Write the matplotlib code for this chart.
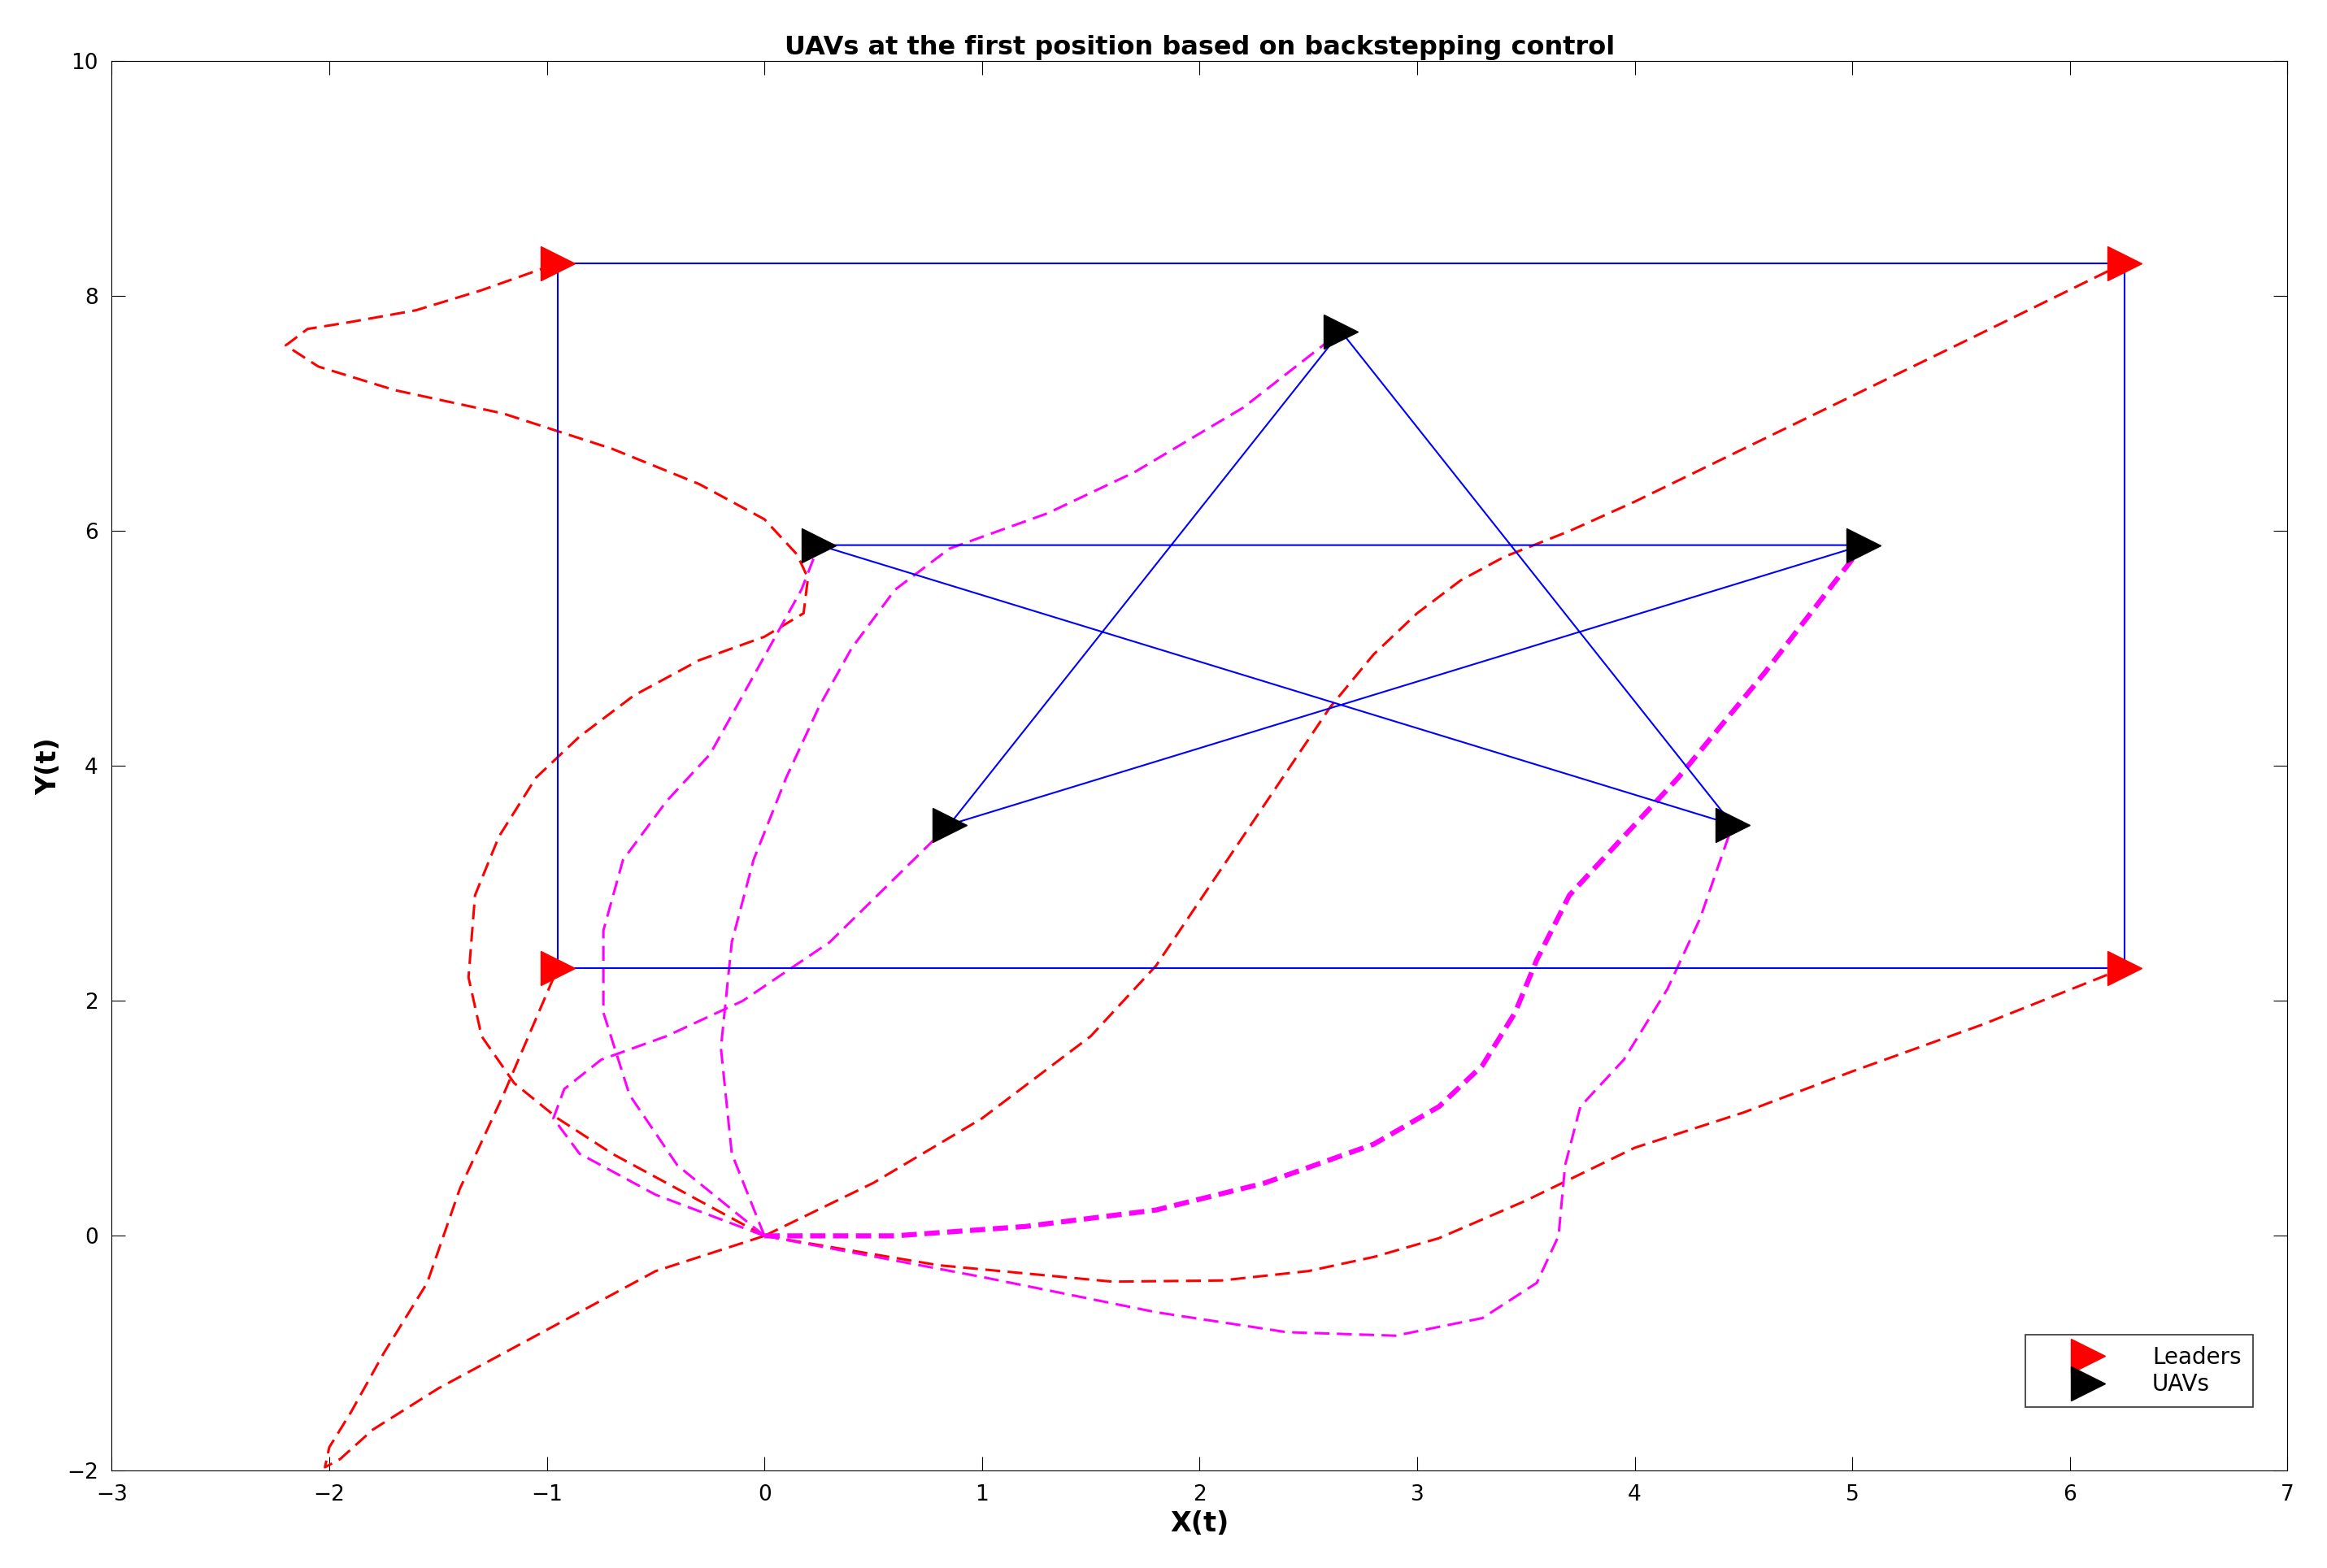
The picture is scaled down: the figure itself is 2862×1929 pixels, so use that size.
import matplotlib
matplotlib.use('Agg')
import matplotlib.pyplot as plt

# leader and UAV end positions
leaders_x = [-0.95, 6.25, -0.95, 6.25]
leaders_y = [8.28, 8.28, 2.28, 2.28]
uavs_x = [2.65, 0.25, 5.05, 0.85, 4.45]
uavs_y = [7.70, 5.88, 5.88, 3.50, 3.50]

# formation outlines (indices into above)
rect_order = [0, 1, 3, 2, 0]
star_order = [0, 3, 2, 1, 4, 0]

# leader trajectories (red dashed)
red_paths = [
    ([0, -0.3, -0.7, -0.95, -1.15, -1.3, -1.36, -1.33, -1.22, -1.05, -0.85, -0.6, -0.3, 0.0, 0.18, 0.2,
      0.15, 0.0, -0.3, -0.7, -1.2, -1.7, -2.05, -2.2, -2.1, -1.9, -1.6, -1.3, -0.95],
     [0, 0.3, 0.7, 1.0, 1.3, 1.7, 2.2, 2.9, 3.4, 3.9, 4.25, 4.6, 4.9, 5.1, 5.3, 5.6,
      5.8, 6.1, 6.4, 6.7, 7.0, 7.2, 7.4, 7.58, 7.72, 7.78, 7.88, 8.05, 8.28]),
    ([0, -0.5, -1.0, -1.5, -1.8, -1.95, -2.02, -2.0, -1.9, -1.75, -1.55, -1.4, -1.2, -0.95],
     [0, -0.3, -0.8, -1.3, -1.65, -1.9, -1.97, -1.8, -1.5, -1.0, -0.4, 0.4, 1.2, 2.28]),
    ([0, 0.5, 1.0, 1.5, 1.8, 2.0, 2.2, 2.4, 2.6, 2.8, 3.0, 3.2, 3.4, 3.7, 4.0, 4.5, 5.0, 5.5, 6.25],
     [0, 0.45, 1.0, 1.7, 2.3, 2.85, 3.4, 3.95, 4.5, 4.95, 5.3, 5.58, 5.78, 6.0, 6.25, 6.7, 7.15, 7.6, 8.28]),
    ([0, 0.8, 1.6, 2.1, 2.5, 2.8, 3.1, 3.5, 4.0, 4.5, 5.0, 5.6, 6.25],
     [0, -0.25, -0.39, -0.38, -0.3, -0.18, -0.02, 0.3, 0.75, 1.05, 1.4, 1.8, 2.28]),
]

# UAV trajectories (magenta dashed)
mag_paths = [
    ([0, -0.4, -0.62, -0.74, -0.74, -0.65, -0.45, -0.25, -0.1, 0.05, 0.17, 0.25],
     [0, 0.6, 1.2, 1.9, 2.6, 3.2, 3.7, 4.1, 4.6, 5.1, 5.5, 5.88]),
    ([0, -0.15, -0.2, -0.15, -0.05, 0.1, 0.25, 0.4, 0.6, 0.85, 1.3, 1.7, 2.2, 2.65],
     [0, 0.7, 1.6, 2.5, 3.2, 3.9, 4.5, 5.0, 5.5, 5.85, 6.15, 6.5, 7.05, 7.7]),
    ([0, -0.5, -0.85, -0.97, -0.92, -0.75, -0.45, -0.1, 0.3, 0.85],
     [0, 0.35, 0.7, 1.0, 1.25, 1.5, 1.7, 2.0, 2.5, 3.5]),
    ([0, 1.0, 1.8, 2.4, 2.9, 3.3, 3.55, 3.65, 3.68, 3.75, 3.95, 4.15, 4.3, 4.45],
     [0, -0.35, -0.65, -0.82, -0.85, -0.7, -0.4, 0.0, 0.6, 1.1, 1.5, 2.1, 2.7, 3.5]),
]
thick_path = ([0, 0.6, 1.2, 1.8, 2.3, 2.8, 3.1, 3.3, 3.45, 3.55, 3.7, 3.9, 4.2, 4.6, 5.05],
              [0, 0.0, 0.08, 0.22, 0.45, 0.78, 1.1, 1.45, 1.9, 2.35, 2.9, 3.3, 3.9, 4.8, 5.88])

fig = plt.figure(figsize=(28.62, 19.29), dpi=100)
ax = fig.add_axes([0.048, 0.062, 0.935, 0.899])

for px, py in red_paths:
    ax.plot(px, py, color='red', lw=2.2, dashes=(6, 3))
for px, py in mag_paths:
    ax.plot(px, py, color='magenta', lw=2.2, dashes=(6, 3))
ax.plot(thick_path[0], thick_path[1], color='magenta', lw=4.5, dashes=(3, 1.5))

ax.plot([leaders_x[i] for i in rect_order], [leaders_y[i] for i in rect_order], color='blue', lw=1.5)
ax.plot([uavs_x[i] for i in star_order], [uavs_y[i] for i in star_order], color='blue', lw=1.5)

ax.plot(leaders_x, leaders_y, '>', color='red', ms=30, ls='none', label='Leaders')
ax.plot(uavs_x, uavs_y, '>', color='black', ms=30, ls='none', label='UAVs')

ax.set_xlim(-3, 7)
ax.set_ylim(-2, 10)
ax.set_xticks(range(-3, 8))
ax.set_yticks(range(-2, 11, 2))
ax.tick_params(labelsize=19, direction='in', length=12, top=True, right=True, pad=12)
ax.set_xlabel('X(t)', fontsize=24, fontweight='bold', labelpad=4)
ax.set_ylabel('Y(t)', fontsize=24, fontweight='bold')
ax.set_title('UAVs at the first position based on backstepping control', fontsize=23, fontweight='bold')
leg = ax.legend(loc='lower right', fontsize=20, fancybox=False, edgecolor='black',
                bbox_to_anchor=(0.984, 0.045), borderpad=0.5, labelspacing=0.2,
                handlelength=4.5, handletextpad=0.6, borderaxespad=0)
leg.get_frame().set_linewidth(1.2)
for t in leg.get_texts():
    t.set_ha('left')
leg.get_frame().set_boxstyle('square', pad=0)
# widen the right side of the legend box like the reference
leg._legend_box.sep = 0

fig.savefig('out.png')
